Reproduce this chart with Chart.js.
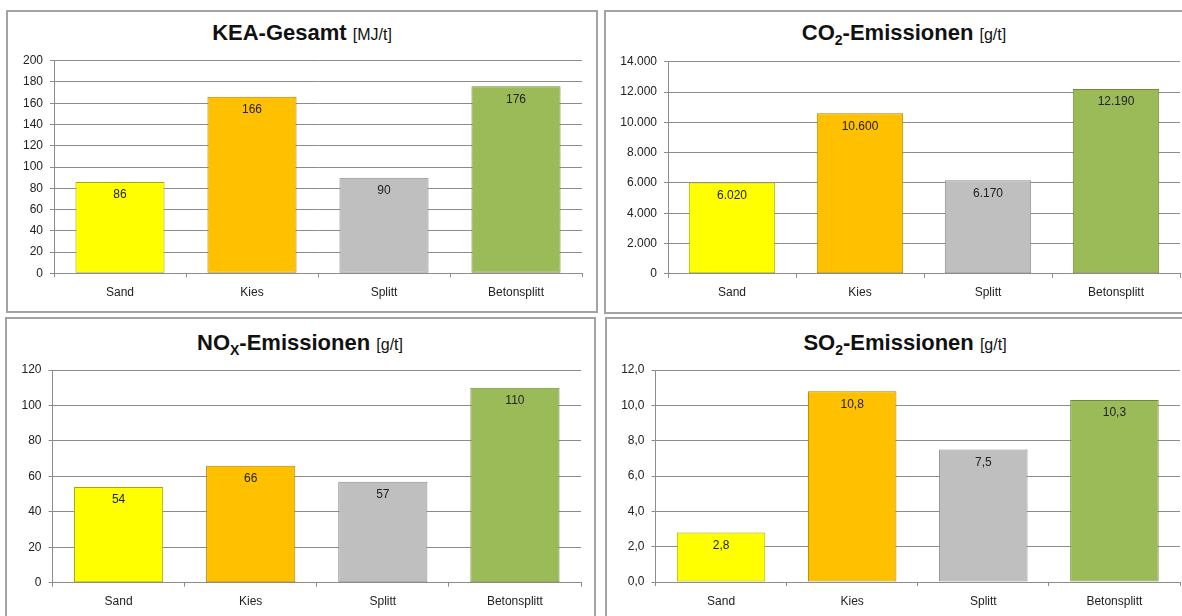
<!DOCTYPE html>
<html lang="de">
<head>
<meta charset="utf-8">
<title>KEA und Emissionen der Gesteinskörnungen</title>
<script src="https://cdn.jsdelivr.net/npm/chart.js@4.4.1/dist/chart.umd.min.js"></script>
<style>
  html, body { margin: 0; padding: 0; background: #fff; }
  #page { position: relative; width: 1182px; height: 616px; overflow: hidden; font-family: "Liberation Sans", Arial, sans-serif; }
  .panel { position: absolute; box-sizing: border-box; border: 2px solid #a3a3a3; background: #fff; }
  .title { position: absolute; width: 600px; text-align: center; color: #111; font-size: 22px; font-weight: bold; line-height: 26px; white-space: nowrap; }
  .title .unit { font-size: 16px; font-weight: normal; }
  .title sub { font-size: 14px; line-height: 0; vertical-align: -5px; }
  canvas { position: absolute; }
</style>
</head>
<body>
<div id="page">
  <div class="panel" style="left:6px;top:10px;width:592px;height:303px"></div>
  <div class="panel" style="left:604px;top:10px;width:600px;height:304px"></div>
  <div class="panel" style="left:5px;top:317px;width:591px;height:310px"></div>
  <div class="panel" style="left:605px;top:317px;width:600px;height:310px"></div>

  <div class="title" style="left:2px;top:20px">KEA-Gesamt <span class="unit">[MJ/t]</span></div>
  <div class="title" style="left:604px;top:20px">CO<sub>2</sub>-Emissionen <span class="unit">[g/t]</span></div>
  <div class="title" style="left:0px;top:330px">NO<sub>X</sub>-Emissionen <span class="unit">[g/t]</span></div>
  <div class="title" style="left:605px;top:330px">SO<sub>2</sub>-Emissionen <span class="unit">[g/t]</span></div>

  <canvas id="kea" width="588" height="270" style="left:9px;top:40px"></canvas>
  <canvas id="co2" width="590" height="270" style="left:607px;top:40px"></canvas>
  <canvas id="nox" width="587" height="266" style="left:8px;top:350px"></canvas>
  <canvas id="so2" width="590" height="266" style="left:608px;top:350px"></canvas>
</div>

<script>
// Gesteinskörnungen
var categories = ["Sand", "Kies", "Splitt", "Betonsplitt"];

// Werte je Kennzahl
var keaValues = [86, 166, 90, 176];
var co2Values = [6020, 10600, 6170, 12190];
var noxValues = [54, 66, 57, 110];
var so2Values = [2.8, 10.8, 7.5, 10.3];

// Achsenbereiche: [max, Schrittweite, Nachkommastellen]
var keaAxis = [200, 20, 0];
var co2Axis = [14000, 2000, 0];
var noxAxis = [120, 20, 0];
var so2Axis = [12, 2, 1];

var barColors = ["#FFFF00", "#FFC000", "#BFBFBF", "#9BBB59"];
var barBorders = ["#A8A800", "#B08400", "#8C8C8C", "#6F8A3C"];

Chart.defaults.font.family = '"Liberation Sans", Arial, sans-serif';
Chart.defaults.font.size = 12;
Chart.defaults.color = "#222";

// deutsche Zahlendarstellung: 12.190 bzw. 10,8
function fmtDe(n, dec) {
    var parts = Number(n).toFixed(dec).split(".");
    var whole = parts[0].replace(/\B(?=(\d{3})+(?!\d))/g, ".");
    return parts[1] ? whole + "," + parts[1] : whole;
}

// Wertbeschriftung innen am Balkenende
var valueLabels = {
    id: "valueLabels",
    afterDatasetsDraw: function (chart, args, opts) {
        var ctx = chart.ctx;
        var meta = chart.getDatasetMeta(0);
        var data = chart.data.datasets[0].data;
        ctx.save();
        ctx.font = '12px "Liberation Sans", Arial, sans-serif';
        ctx.fillStyle = "#222";
        ctx.textAlign = "center";
        ctx.textBaseline = "middle";
        meta.data.forEach(function (bar, i) {
            ctx.fillText(fmtDe(data[i], opts.decimals), bar.x, bar.y + 13);
        });
        ctx.restore();
    }
};

function makeChart(id, values, axis, layout) {
    new Chart(document.getElementById(id).getContext("2d"), {
        type: "bar",
        data: {
            labels: categories,
            datasets: [{
                data: values,
                backgroundColor: barColors,
                borderColor: barBorders,
                borderWidth: 1,
                borderSkipped: false,
                barPercentage: 0.675,
                categoryPercentage: 1
            }]
        },
        plugins: [valueLabels],
        options: {
            responsive: false,
            devicePixelRatio: 1,
            animation: false,
            layout: { padding: { top: layout.top, right: layout.right, left: 0, bottom: 0 } },
            plugins: {
                legend: { display: false },
                tooltip: { enabled: false },
                valueLabels: { decimals: axis[2] }
            },
            scales: {
                x: {
                    afterFit: function (s) { s.height = layout.xh; },
                    grid: { offset: true, drawOnChartArea: false, drawTicks: true, tickLength: 4, color: "#8c8c8c" },
                    border: { display: true, color: "#8c8c8c" },
                    ticks: { padding: 8, color: "#222", maxRotation: 0 }
                },
                y: {
                    min: 0,
                    max: axis[0],
                    afterFit: function (s) { s.width = layout.yw; },
                    grid: { color: "#8c8c8c", lineWidth: 1, drawTicks: true, tickLength: 4 },
                    border: { display: true, color: "#8c8c8c" },
                    ticks: {
                        stepSize: axis[1],
                        padding: 7,
                        color: "#222",
                        callback: function (v) { return fmtDe(v, axis[2]); }
                    }
                }
            }
        }
    });
}

makeChart("kea", keaValues, keaAxis, { top: 20.7, right: 15, yw: 45, xh: 36.7 });
makeChart("co2", co2Values, co2Axis, { top: 21.7, right: 17, yw: 61, xh: 36.2 });
makeChart("nox", noxValues, noxAxis, { top: 20, right: 14, yw: 44.5, xh: 33.3 });
makeChart("so2", so2Values, so2Axis, { top: 20, right: 18, yw: 47.5, xh: 34 });
</script>
</body>
</html>
